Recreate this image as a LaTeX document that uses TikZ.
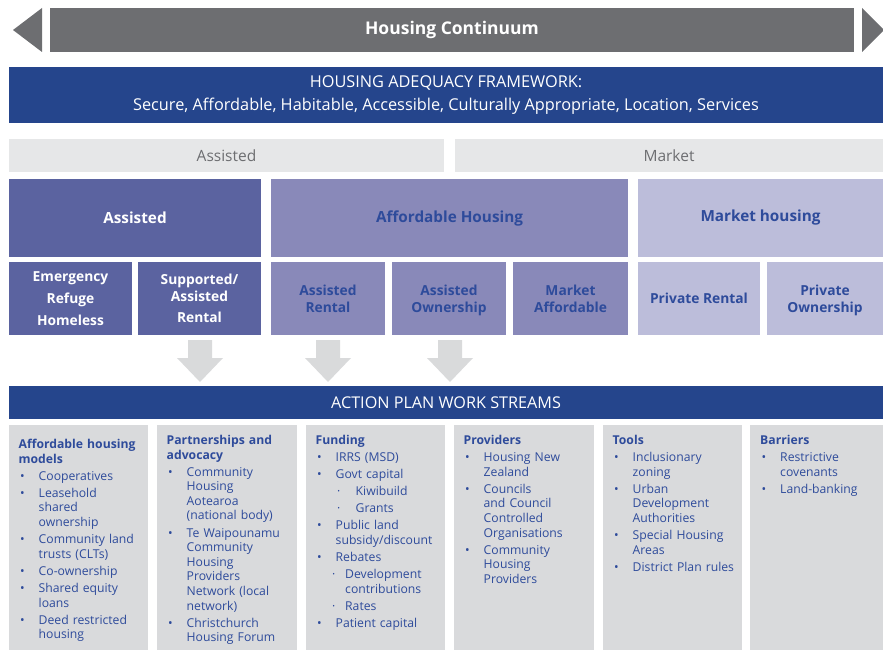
\documentclass[tikz,border=0pt]{standalone}
\usepackage{fontspec}
\setmainfont{Open Sans}
\usepackage{enumitem}
\definecolor{contgray}{HTML}{6D6E71}
\definecolor{frameblue}{HTML}{25458C}
\definecolor{hdrgray}{HTML}{E6E7E8}
\definecolor{assistblue}{HTML}{5B63A0}
\definecolor{affordblue}{HTML}{8989B9}
\definecolor{marketblue}{HTML}{BCBDDA}
\definecolor{labelblue}{HTML}{2E4B9B}
\definecolor{colgray}{HTML}{D9DADC}
\definecolor{arrowgray}{HTML}{D9DADB}
\newcommand{\fsize}[2]{\fontsize{#1}{#2}\selectfont}
\newcommand{\nodepth}[1]{\raisebox{0pt}[\height][0pt]{#1}}
\newcommand{\subdot}{\makebox[9.5pt][l]{\hspace{-3.5pt}·}}
\setlist[itemize]{nosep, itemsep=2.5pt, topsep=2.5pt, leftmargin=20pt, labelwidth=20pt, labelsep=0pt, label=\makebox[20pt][l]{\hspace{1.5pt}\textbullet}}
\setlist[itemize,2]{label=\makebox[20pt][l]{\hspace{1.5pt}·}}
\tikzset{
  band/.style={inner sep=0pt, outer sep=0pt, anchor=north west, align=center},
  hdr/.style={band, fill=hdrgray, text=contgray, minimum height=33pt, font=\fsize{15.5}{18}},
  bigbox/.style={band, minimum height=78pt, font=\bfseries\fsize{15.3}{18}},
  subbox/.style={band, minimum height=73pt, font=\bfseries\fsize{13.8}{16.7}},
  colbox/.style={band, fill=colgray, minimum height=226pt},
  coltext/.style={anchor=north west, inner sep=0pt, text width=133pt, align=left, text=labelblue, font=\fsize{12.2}{14.6}}
}
\begin{document}
\begin{tikzpicture}[x=1pt,y=-1pt]
  \useasboundingbox (0,0) rectangle (883,650);
  % Continuum
  \fill[contgray] (42,8) -- (42,52) -- (13,30) -- cycle;
  \fill[contgray] (862,8) -- (862,52) -- (884,30) -- cycle;
  \node[band, fill=contgray, minimum width=804pt, minimum height=44pt, text=white, font=\bfseries\fsize{17.5}{20}] (cont) at (50,8) {Housing Continuum};
  % Framework
  \node[band, fill=frameblue, minimum width=874pt, minimum height=56pt, text=white, font=\fsize{16.3}{23}] (frame) at (9,67) {HOUSING ADEQUACY FRAMEWORK:\\Secure, Affordable, Habitable, Accessible, Culturally Appropriate, Location, Services};
  % Headers
  \node[hdr, minimum width=435pt] (hassist) at (9,139) {Assisted};
  \node[hdr, minimum width=428pt] (hmarket) at (455,139) {Market};
  % Big boxes
  \node[bigbox, fill=assistblue, text=white, minimum width=252pt] (assist) at (9,179) {Assisted};
  \node[bigbox, fill=affordblue, text=labelblue, minimum width=357pt] (afford) at (271,179) {Affordable Housing};
  \node[bigbox, fill=marketblue, text=labelblue, minimum width=245pt] (market) at (638,179) {Market housing};
  % Sub boxes
  \node[subbox, fill=assistblue, text=white, minimum width=123pt, font=\bfseries\fsize{13.8}{21.7}] (emerg) at (9,262) {Emergency\\Refuge\\Homeless};
  \node[subbox, fill=assistblue, text=white, minimum width=123pt] (support) at (138,262) {Supported/\\Assisted\\[5pt]Rental};
  \node[subbox, fill=affordblue, text=labelblue, minimum width=114pt] (arent) at (271,262) {Assisted\\Rental};
  \node[subbox, fill=affordblue, text=labelblue, minimum width=114pt] (aown) at (392,262) {Assisted\\\nodepth{Ownership}};
  \node[subbox, fill=affordblue, text=labelblue, minimum width=115pt] (maff) at (513,262) {Market\\Affordable};
  \node[subbox, fill=marketblue, text=labelblue, minimum width=122pt] (prent) at (638,262) {Private Rental};
  \node[subbox, fill=marketblue, text=labelblue, minimum width=116pt] (pown) at (767,262) {Private\\\nodepth{Ownership}};
  % Frecce
  \foreach \x in {200,328,450}
    \fill[arrowgray] (\x-12,340) -- (\x+12,340) -- (\x+12,358) -- (\x+23,358) -- (\x,382) -- (\x-23,358) -- (\x-12,358) -- cycle;
  % Action plan
  \node[band, fill=frameblue, minimum width=874pt, minimum height=33pt, text=white, font=\fsize{16.2}{18}] (action) at (9,386) {ACTION PLAN WORK STREAMS};
  % Columns
  \foreach \cx/\cw/\nm in {9/139/c1,157/140/c2,306/139/c3,454/140/c4,603/139/c5,750/133/c6}
    \node[colbox, minimum width=\cw pt] (\nm) at (\cx,425) {};
  \node[coltext] (t1) at (18.5,439) {\textbf{Affordable housing\\models}
    \begin{itemize}
      \item Cooperatives
      \item Leasehold\\shared\\ownership
      \item Community land\\trusts (CLTs)
      \item Co-ownership
      \item Shared equity\\loans
      \item Deed restricted\\housing
    \end{itemize}};
  \node[coltext] (t2) at (166.5,435) {\textbf{Partnerships and\\advocacy}
    \begin{itemize}
      \item Community\\Housing\\Aotearoa\\(national body)
      \item Te Waipounamu\\Community\\Housing\\Providers\\Network (local\\network)
      \item Christchurch\\Housing Forum
    \end{itemize}};
  \node[coltext] (t3) at (315.5,435) {\textbf{Funding}
    \begin{itemize}
      \item IRRS (MSD)
      \item Govt capital
        \begin{itemize}
          \item Kiwibuild
          \item Grants
        \end{itemize}
      \item Public land\\subsidy/discount
      \item Rebates
        \begin{itemize}[leftmargin=9.5pt, labelwidth=9.5pt, label=\subdot]
          \item Development\\contributions
          \item Rates
        \end{itemize}
      \item Patient capital
    \end{itemize}};
  \node[coltext] (t4) at (463.5,435) {\textbf{Providers}
    \begin{itemize}
      \item Housing New\\Zealand
      \item Councils\\and Council\\Controlled\\Organisations
      \item Community\\Housing\\Providers
    \end{itemize}};
  \node[coltext] (t5) at (612.5,435) {\textbf{Tools}
    \begin{itemize}
      \item Inclusionary\\zoning
      \item Urban\\Development\\Authorities
      \item Special Housing\\Areas
      \item District Plan rules
    \end{itemize}};
  \node[coltext] (t6) at (760,435) {\textbf{Barriers}
    \begin{itemize}
      \item Restrictive\\covenants
      \item Land-banking
    \end{itemize}};
\end{tikzpicture}
\end{document}
